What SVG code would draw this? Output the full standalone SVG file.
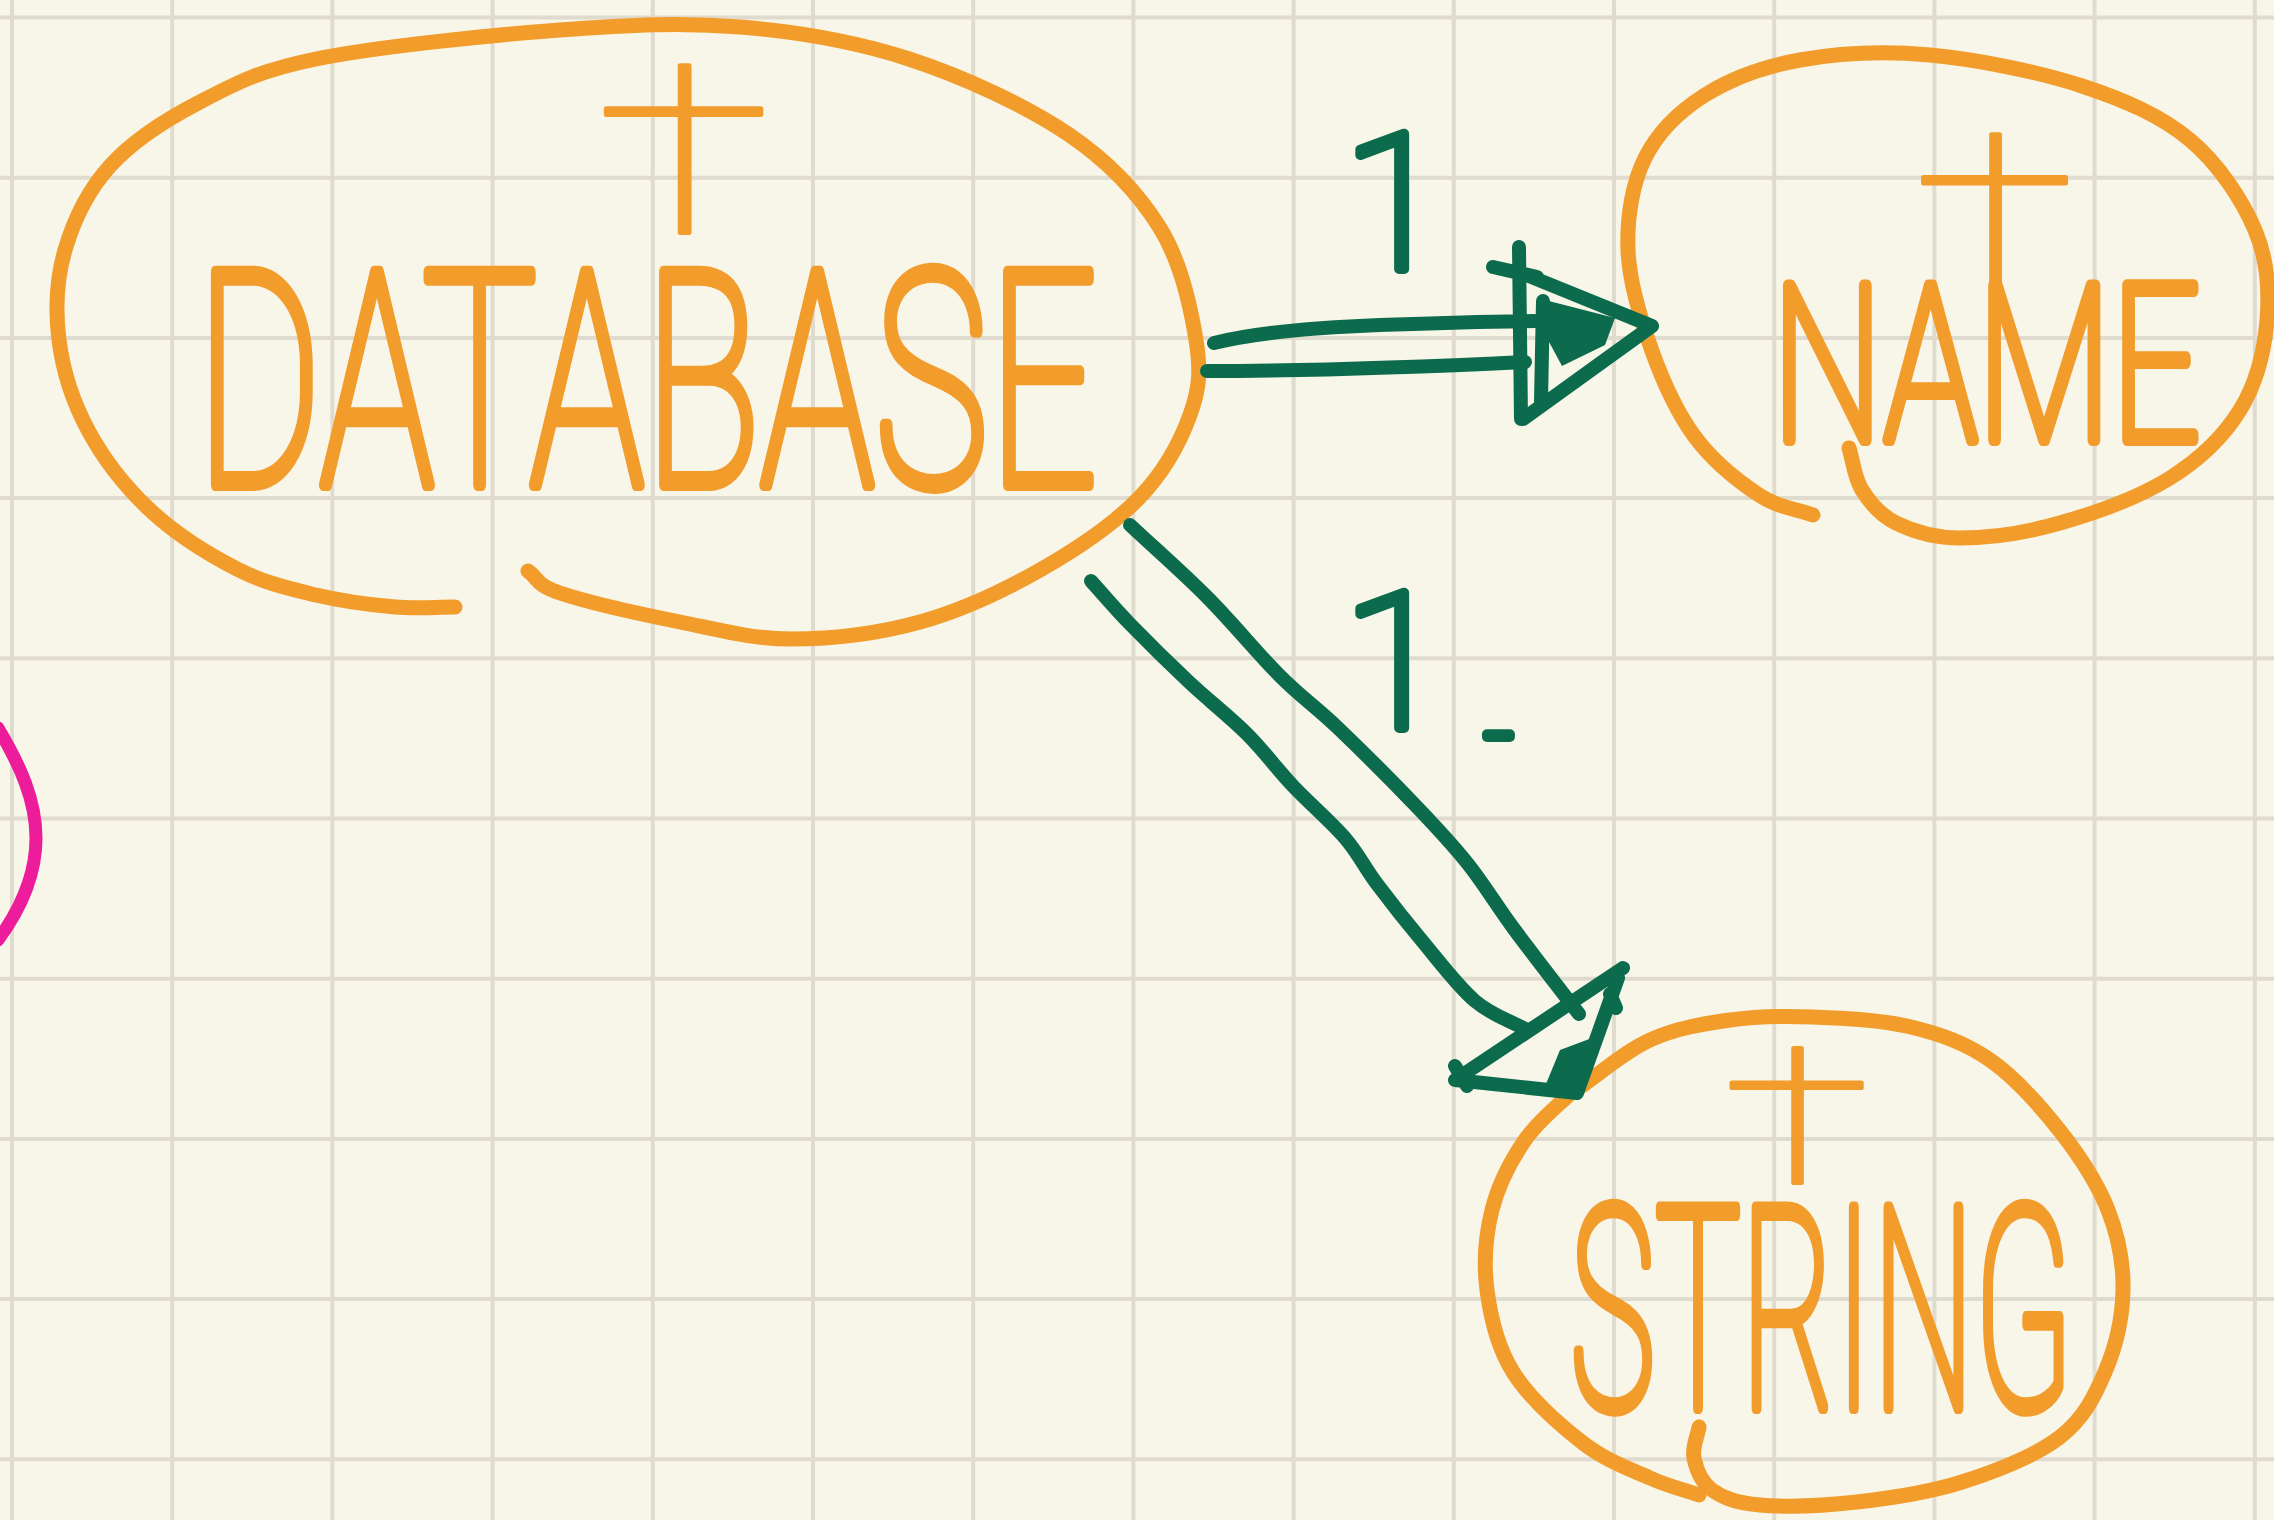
<svg xmlns="http://www.w3.org/2000/svg" width="2274" height="1520" viewBox="0 0 2274 1520">
  <style>
    .grid { stroke: #dfdbcf; stroke-width: 4; fill: none; }
    .ink-o { stroke: #f19c2b; stroke-width: 15; fill: none; stroke-linecap: round; stroke-linejoin: round; }
    .ink-g { stroke: #0c6b4c; stroke-width: 14; fill: none; stroke-linecap: round; stroke-linejoin: round; }
    .ink-m { stroke: #ec1c9a; stroke-width: 13; fill: none; stroke-linecap: round; }
    .lbl-o { font-family: Roboto, "Liberation Sans", sans-serif; font-weight: 100; fill: #f19c2b; stroke: #f19c2b; stroke-width: 12; stroke-linejoin: round; stroke-linecap: round; }
    .lbl-g { font-family: Roboto, "Liberation Sans", sans-serif; font-weight: 100; fill: #0c6b4c; stroke: #0c6b4c; stroke-width: 10; stroke-linejoin: round; stroke-linecap: round; }
    .mark { font-family: Roboto, "DejaVu Sans", sans-serif; font-weight: 100; fill: #f19c2b; stroke: #f19c2b; stroke-width: 4; stroke-linejoin: round; stroke-linecap: round; text-anchor: middle; }
    .fill-g { fill: #0c6b4c; }
  </style>

  <!-- paper -->
  <rect width="2274" height="1520" fill="#f8f5e9"/>
  <g id="grid" class="grid">
    <path d="M12,0V1520 M172.2,0V1520 M332.4,0V1520 M492.6,0V1520 M652.8,0V1520 M813,0V1520 M973.2,0V1520 M1133.4,0V1520 M1293.6,0V1520 M1453.8,0V1520 M1614,0V1520 M1774.2,0V1520 M1934.4,0V1520 M2094.6,0V1520 M2254.8,0V1520"/>
    <path d="M0,17.5H2274 M0,177.7H2274 M0,337.9H2274 M0,498.1H2274 M0,658.3H2274 M0,818.5H2274 M0,978.7H2274 M0,1138.9H2274 M0,1299.1H2274 M0,1459.3H2274"/>
  </g>

  <!-- stray stroke at the left edge -->
  <g id="edge-arc">
    <path class="ink-m" d="M-2,728 C20,765 36,800 36,838 S20,910 -2,940"/>
  </g>

  <!-- DATABASE -->
  <g id="node-database">
    <path class="ink-o" d="M528,571 C538.7,578.3 534.7,584.5 560,593 S641.5,614.3 680,622 S751,639 791,639 S878.5,633.5 920,622 S1003.5,590.7 1040,570 S1114,523.8 1139,498 S1180.5,441.3 1190,415 S1201,371.2 1196,340 S1181.3,262.3 1160,228 S1109.8,162.2 1068,134 S963.7,76.8 909,59 S798.2,31.8 740,27 S630.7,24.7 560,30 S376.3,46.8 316,59 S232.3,85.2 198,103 S132.2,141.5 110,166 S73.5,221 65,250 S55.2,310 59,340 S72.8,401.7 88,430 S125.2,486.8 150,510 S209.3,554.8 237,569 S289.7,588.7 316,595 S371.8,605 395,607 S435,607 455,607"/>
    <text class="mark" font-size="236" transform="translate(684,233) scale(1.35,1)">†</text>
    <text class="lbl-o" font-size="300" transform="translate(196,485) scale(0.64,1)">DATABASE</text>
  </g>

  <!-- NAME -->
  <g id="node-name">
    <path class="ink-o" d="M1813,515 C1795,508.3 1778.7,508 1759,495 S1712.8,461 1695,437 S1663.2,382.2 1652,351 S1629.2,282.2 1628,250 S1632.2,183.8 1645,158 S1679.2,111.3 1705,95 S1762.5,66.7 1800,60 S1883,50.7 1930,55 S2038.7,71.8 2082,86 S2161.2,116 2190,140 S2242.2,200 2255,230 S2269.5,290 2267,320 S2256.2,383.7 2240,410 S2200,459.2 2170,478 S2095,513 2060,523 S1987.3,538 1960,538 S1912.3,531 1896,523 S1869.8,502.5 1862,490 S1853.3,462 1849,448"/>
    <text class="mark" font-size="233" transform="translate(1995,300) scale(1.26,1)">†</text>
    <text class="lbl-o" font-size="218" transform="translate(1772,440) scale(0.717,1)">NAME</text>
  </g>

  <!-- STRING -->
  <g id="node-string">
    <path class="ink-o" d="M1576,1090 C1600.7,1073.3 1624.3,1051.7 1650,1040 S1702.8,1023.8 1730,1020 S1782.8,1015.8 1813,1017 S1881.5,1019.8 1911,1027 S1965.2,1042.7 1990,1060 S2040.3,1106 2060,1131 S2097.5,1183.5 2108,1210 S2123.5,1263 2123,1290 S2115.5,1347.5 2105,1372 S2083.8,1418.7 2060,1437 S1995.8,1471.2 1962,1482 S1890.7,1498.2 1857,1502 S1784.2,1507 1760,1505 S1723,1497.8 1712,1490 S1696.2,1468.5 1694,1458 S1697.3,1437.3 1699,1427"/>
    <path class="ink-o" d="M1576,1088 C1559,1105.3 1539,1119.7 1525,1140 S1498.3,1185 1492,1210 S1483.5,1263 1487,1290 S1497,1346.5 1513,1372 S1560.2,1425.3 1583,1443 S1630.7,1469.3 1650,1478 S1682.7,1489.3 1699,1495"/>
    <text class="mark" font-size="190" transform="translate(1797,1183) scale(1.4,1)">†</text>
    <text class="lbl-o" font-size="282" transform="translate(1570,1408) scale(0.51,1)">STRING</text>
  </g>

  <!-- connectors -->
  <g id="connectors">
    <!-- DATABASE to NAME -->
    <g id="edge-database-name">
      <path class="ink-g" d="M1214,343 C1250,334 1300,328 1380,325 S1480,322 1535,321"/>
      <path class="ink-g" d="M1207,371 C1280,371 1400,368 1525,362"/>
      <path class="ink-g" d="M1519,247 L1521,419 M1493,267 L1537,277 M1519,272 L1652,326 L1523,419 M1543,301 L1541,401"/>
      <polygon class="fill-g" points="1545,300 1615,318 1605,345 1562,366 1548,340"/>
      <text class="lbl-g" x="1343" y="269" font-size="190">1</text>
    </g>
    <!-- DATABASE to STRING -->
    <g id="edge-database-string">
      <path class="ink-g" d="M1130,525 C1156,549.3 1183,572.8 1208,598 S1258.3,654.3 1280,676 S1315.3,706.3 1338,728 S1394.3,783.3 1416,806 S1451.7,843.5 1468,864 S1495.5,904 1514,929 S1557.3,985.7 1579,1014"/>
      <path class="ink-g" d="M1091,581 C1104,595.3 1113.7,607.2 1130,624 S1169.5,663.7 1189,682 S1229.7,716.7 1247,734 S1276.7,768.7 1293,786 S1331,821.7 1345,838 S1364,866.7 1377,884 S1406.7,922.5 1423,942 S1457.7,986.3 1475,1001 S1509.7,1020.3 1527,1030"/>
      <path class="ink-g" d="M1623,968 L1455,1080 L1577,1093 L1618,978 M1455,1066 L1467,1086 M1610,994 L1616,1008"/>
      <polygon class="fill-g" points="1560,1050 1592,1038 1580,1090 1546,1084"/>
      <text class="lbl-g" x="1343" y="728" font-size="190">1<tspan x="1484" y="768" font-size="100">-</tspan></text>
    </g>
  </g>
</svg>
